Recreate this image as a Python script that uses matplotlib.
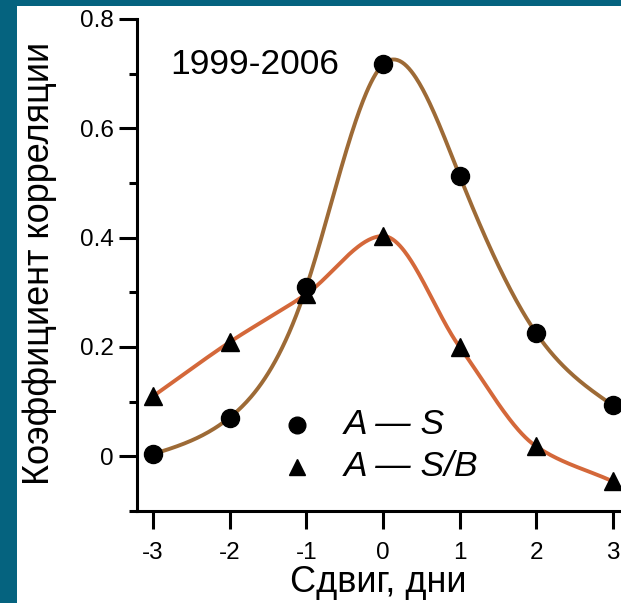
import numpy as np
import matplotlib
matplotlib.use("Agg")
import matplotlib.pyplot as plt
from matplotlib.patches import Rectangle

# ---- data ----
shift_days = [-3, -2, -1, 0, 1, 2, 3]
corr_A_S = [0.004, 0.071, 0.310, 0.717, 0.513, 0.225, 0.093]
corr_A_SB = [0.110, 0.209, 0.297, 0.403, 0.200, 0.018, -0.046]
x_ticks = [-3, -2, -1, 0, 1, 2, 3]
y_ticks = [0, 0.2, 0.4, 0.6, 0.8]
y_tick_labels = ["0", "0.2", "0.4", "0.6", "0.8"]
period_label = "1999-2006"
xlabel = "Сдвиг, дни"
ylabel = "Коэффициент корреляции"
series_labels = ["A — S", "A — S/B"]


def natural_spline(x, y, xs):
    x = np.asarray(x, float)
    y = np.asarray(y, float)
    n = len(x)
    h = np.diff(x)
    A = np.zeros((n, n))
    b = np.zeros(n)
    A[0, 0] = 1
    A[-1, -1] = 1
    for i in range(1, n - 1):
        A[i, i - 1] = h[i - 1]
        A[i, i] = 2 * (h[i - 1] + h[i])
        A[i, i + 1] = h[i]
        b[i] = 6 * ((y[i + 1] - y[i]) / h[i] - (y[i] - y[i - 1]) / h[i - 1])
    M = np.linalg.solve(A, b)
    out = np.empty_like(xs)
    for k, xv in enumerate(xs):
        i = min(max(np.searchsorted(x, xv) - 1, 0), n - 2)
        t0 = x[i + 1] - xv
        t1 = xv - x[i]
        hi = h[i]
        out[k] = (M[i] * t0 ** 3 / (6 * hi) + M[i + 1] * t1 ** 3 / (6 * hi)
                  + (y[i] / hi - M[i] * hi / 6) * t0
                  + (y[i + 1] / hi - M[i + 1] * hi / 6) * t1)
    return out


def pchip(x, y, xs):
    x = np.asarray(x, float)
    y = np.asarray(y, float)
    n = len(x)
    h = np.diff(x)
    d = np.diff(y) / h
    m = np.zeros(n)
    for i in range(1, n - 1):
        if d[i - 1] * d[i] > 0:
            w1 = 2 * h[i] + h[i - 1]
            w2 = h[i] + 2 * h[i - 1]
            m[i] = (w1 + w2) / (w1 / d[i - 1] + w2 / d[i])
    m[0] = d[0]
    m[-1] = d[-1]
    out = np.empty_like(xs)
    for k, xv in enumerate(xs):
        i = min(max(np.searchsorted(x, xv) - 1, 0), n - 2)
        t = (xv - x[i]) / h[i]
        h00 = 2 * t ** 3 - 3 * t ** 2 + 1
        h10 = t ** 3 - 2 * t ** 2 + t
        h01 = -2 * t ** 3 + 3 * t ** 2
        h11 = t ** 3 - t ** 2
        out[k] = h00 * y[i] + h10 * h[i] * m[i] + h01 * y[i + 1] + h11 * h[i] * m[i + 1]
    return out


plt.rcParams['font.family'] = ['Liberation Sans', 'DejaVu Sans']

W, H = 621, 603
fig = plt.figure(figsize=(W / 100, H / 100), dpi=100)
fig.patch.set_facecolor("#05637f")
fig.patches.append(Rectangle((17 / W, 0), 1, (H - 6) / H, transform=fig.transFigure,
                             facecolor="white", edgecolor="none", zorder=-5))

ax = fig.add_axes([137 / W, (H - 511) / H, 499 / W, 492 / H])
ax.set_zorder(2)
ax.set_facecolor("none")
ax.set_xlim(-3.21, 3.3)
ax.set_ylim(-0.1, 0.8)

brown = "#9d6a36"
orange = "#d4683a"
xs = np.linspace(shift_days[0], shift_days[-1], 400)
ax.plot(xs, natural_spline(shift_days, corr_A_S, xs), color=brown, lw=2.8, zorder=2)
ax.plot(xs, pchip(shift_days, corr_A_SB, xs), color=orange, lw=2.8, zorder=2)
ax.plot(shift_days, corr_A_S, 'o', color='black', ms=13, zorder=3, clip_on=False)
ax.plot(shift_days, corr_A_SB, '^', color='black', ms=13, zorder=3, clip_on=False)

for s in ['top', 'right']:
    ax.spines[s].set_visible(False)
for s in ['left', 'bottom']:
    ax.spines[s].set_linewidth(2.2)

ax.set_xticks(x_ticks)
ax.set_xticklabels([str(v) for v in x_ticks])
ax.set_yticks(y_ticks)
ax.set_yticklabels(y_tick_labels)
ax.set_yticks(np.arange(-0.1, 0.81, 0.1), minor=True)
ax.tick_params(axis='both', which='major', length=13, width=2.2, labelsize=17.5, direction='out')
ax.tick_params(axis='x', which='major', pad=9)
ax.tick_params(axis='y', which='major', pad=4)
ax.tick_params(axis='y', which='minor', length=6, width=2.2)

ax.set_xlabel(xlabel, fontsize=26)
ax.xaxis.label.set_va('center')
ax.xaxis.set_label_coords((378 - 137) / 499, -(582 - 511) / 492)
fig.text(40 / W, 1 - 263 / H, ylabel, rotation=90, fontsize=26, ha='center', va='center')

ax.text((170 - 137) / 499, (511 - 65) / 492, period_label, transform=ax.transAxes,
        fontsize=25.5, ha='left', va='center')

# legend drawn manually
leg_rows = [(425, 'o', 12), (467, '^', 12)]
for (ypx, mk, ms), lab in zip(leg_rows, series_labels):
    yy = (511 - ypx) / 492
    ax.plot([(297 - 137) / 499], [yy], mk, color='black', ms=ms, transform=ax.transAxes, clip_on=False)
    ax.text((344 - 137) / 499, yy, lab, transform=ax.transAxes, fontsize=25.5,
            style='italic', ha='left', va='center')

fig.savefig("out.png", dpi=100)
